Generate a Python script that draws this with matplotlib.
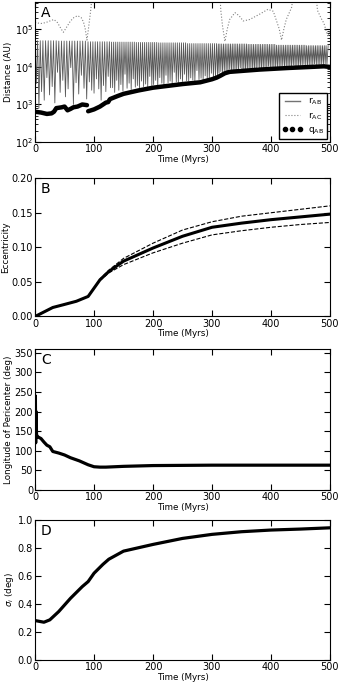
import numpy as np
import matplotlib
matplotlib.use("Agg")
import matplotlib.pyplot as plt
from matplotlib.lines import Line2D

# ---------------- panel A : distances ----------------
# times of the pericentre passages of B (Myr) and sampled minimum distance (kAU)
peri_t = [2, 6.5, 11, 15.5, 20, 24.5, 29, 33.5, 38, 42.5, 47, 51.5, 56, 60.5, 65, 69.5, 74, 78.5, 83, 87.5,
          92, 96, 100, 104, 108, 112, 116, 120, 124, 128,
          131.5, 135, 138.5, 142, 145.5, 149, 152.5, 156, 159.5, 163, 166.5, 170, 173.5, 177, 180.5, 184, 187.5, 191, 194.5, 198,
          201, 204.5, 208, 211.5, 215, 218.5, 222, 225.5, 229, 232.5, 236, 239.5, 243, 246.5, 250, 253.5,
          257, 260.5, 264, 267.5, 271, 274.5, 278, 281.5, 285, 288.5, 292, 295.5, 299, 302.5, 306, 309.5,
          312, 315, 318, 321, 324, 327, 330, 333, 336, 339, 342, 345, 348, 351, 354, 357, 360, 363, 366, 369,
          372, 375, 378, 381, 384, 387, 390, 393, 396, 399, 402, 405, 408, 411, 414, 417, 420, 423, 426, 429,
          432, 435, 438, 441, 444, 447, 450, 453, 456, 459, 462, 465, 468, 471, 474, 477, 480, 483, 486, 489, 492, 495]
peri_r = [3.6, 0.8, 2.2, 1.3, 5.2, 1.8, 3.0, 1.1, 7.2, 2.1, 4.4, 1.6, 2.6, 9.6, 1.0, 3.8, 1.9, 6.0, 2.7, 1.4,
          4.0, 2.4, 2.0, 4.8, 2.6, 1.3, 3.2, 2.2, 5.6, 2.8,
          2.8, 2.1, 4.4, 2.4, 3.4, 2.3, 6.4, 2.7, 3.7, 2.5, 4.8, 2.9, 3.2, 2.6, 4.2, 3.0, 3.5, 2.9, 5.6, 3.2,
          3.4, 4.4, 3.1, 5.2, 3.7, 3.4, 6.0, 3.8, 4.2, 3.6, 7.2, 4.0, 3.8, 4.8, 4.1, 6.4,
          4.3, 4.2, 5.1, 4.5, 4.3, 8.0, 4.6, 5.0, 4.6, 5.8, 4.8, 5.0, 6.8, 5.1, 5.4, 6.0,
          6.8, 7.6, 7.2, 8.0, 7.4, 7.7, 8.8, 7.8, 8.2, 7.9, 8.4, 8.1, 9.6, 8.3, 8.5, 8.2, 8.8, 8.6, 9.2, 8.7,
          9.0, 8.8, 10.0, 9.0, 9.3, 9.1, 9.4, 9.3, 10.4, 9.5, 9.7, 9.5, 9.9, 9.8, 10.1, 9.8, 10.8, 10.1, 10.2, 10.2,
          10.4, 10.3, 11.2, 10.5, 10.7, 10.6, 10.9, 10.8, 11.6, 11.0, 11.2, 11.1, 11.4, 11.3, 12.0, 11.5, 11.7, 11.6,
          11.8, 11.8, 12.2, 11.9]
# apocentre level (kAU) by time span
apo_end = [40, 90, 130, 170, 210, 260, 310, 360, 410, 460, 500]
apo_r = [50, 49, 47, 46, 45, 44, 42, 41, 40, 38, 37]

qab_t = [0, 10, 20, 28, 32, 36, 45, 50, 55, 60, 65, 72, 80, 88, np.nan, 90, 100, 110, 120, 124, 127, 140, 150, 175, 200,
         250, 280, 300, 308, 314, 322, 330, 380, 430, 490, 495, 500]
qab = [640, 610, 560, 580, 640, 800, 840, 880, 700, 760, 840, 880, 1000, 960, np.nan, 660, 740, 880, 1120, 1160,
       1390, 1680, 1920, 2360, 2800, 3500, 3900, 4700, 5200, 5800, 6800, 7400, 8500, 9400, 10400, 10200, 10000]

rac_t = [0, 5, 10, 18, 25, 32, 38, 44, 48, 53, 60, 66, 72, 78, 82, 85, 88, 91, 95, 98,
         312, 315, 318, 322, 326, 330, 339, 346, 353, 364, 381, 395, 404, 410, 414, 418, 422, 426, 435, 442,
         474, 479, 485, 490, 494, 497, 500]
rac = [1.56e5, 1.48e5, 1.44e5, 1.52e5, 1.68e5, 1.84e5, 1.52e5, 1.04e5, 8.4e4, 1.12e5, 1.68e5, 2.08e5, 2.32e5,
       2.08e5, 1.6e5, 1.04e5, 5.2e4, 1.2e5, 4e5, 2e6,
       2e6, 3.2e5, 1.2e5, 4.8e4, 1.04e5, 1.84e5, 2.8e5, 2.32e5, 1.68e5, 1.84e5, 2.56e5, 3.44e5, 3.04e5, 1.6e5,
       1.04e5, 5.2e4, 1.04e5, 1.84e5, 3.84e5, 2e6,
       2e6, 3.2e5, 2e5, 1.44e5, 8.8e4, 6.4e4, 9.6e4]

# ---------------- panel B : eccentricity ----------------
ecc_t = [0, 30, 48, 70, 90, 100, 110, 125, 150, 200, 250, 300, 350, 400, 450, 500]
ecc = [0.0, 0.013, 0.017, 0.022, 0.029, 0.041, 0.053, 0.065, 0.080, 0.099, 0.116, 0.129, 0.135, 0.140, 0.144, 0.148]
ecc_hi = [0.0, 0.013, 0.017, 0.022, 0.029, 0.041, 0.054, 0.067, 0.084, 0.106, 0.125, 0.137, 0.145, 0.150, 0.155, 0.160]
ecc_lo = [0.0, 0.013, 0.017, 0.022, 0.029, 0.041, 0.052, 0.063, 0.075, 0.092, 0.106, 0.118, 0.124, 0.129, 0.133, 0.136]

# ---------------- panel C : longitude of pericenter ----------------
lp_t = [0, 0.5, 1, 1.5, 2.5, 5, 10, 15, 20, 25, 30, 40, 50, 60, 75, 90, 100, 110, 120, 150, 200, 300, 400, 500]
lp = [195, 240, 120, 200, 140, 135, 131, 122, 114, 110, 98, 94, 89, 82, 74, 64, 59, 58, 58, 60, 62, 63, 63, 63]

# ---------------- panel D : inclination dispersion ----------------
si_t = [0, 15, 25, 40, 60, 80, 90, 100, 115, 125, 150, 200, 250, 300, 350, 400, 450, 500]
si = [0.281, 0.269, 0.286, 0.345, 0.44, 0.524, 0.56, 0.62, 0.683, 0.72, 0.778, 0.826, 0.869, 0.898, 0.917, 0.929,
      0.936, 0.945]

plt.rcParams.update({
    "font.size": 7,
    "axes.labelsize": 6.3,
    "xtick.direction": "in", "ytick.direction": "in",
    "xtick.top": True, "ytick.right": True,
    "xtick.major.size": 4, "ytick.major.size": 4,
    "xtick.minor.size": 2, "ytick.minor.size": 2,
    "xtick.major.pad": 1.5, "ytick.major.pad": 1.5,
    "axes.linewidth": 0.8,
})

fig = plt.figure(figsize=(3.44, 6.88), dpi=100)
L, W = 0.102, 0.857
axA = fig.add_axes([L, 0.7936, W, 0.204])
axB = fig.add_axes([L, 0.540, W, 0.201])
axC = fig.add_axes([L, 0.288, W, 0.205])
axD = fig.add_axes([L, 0.041, W, 0.203])

# r_AB: alternate apocentre and pericentre samples
pt = np.array(peri_t, dtype=float)
pr = np.array(peri_r) * 1e3
apo = np.array(apo_r)[np.searchsorted(apo_end, pt)] * 1e3
mid = np.r_[0, (pt[1:] + pt[:-1]) / 2, 497]
tt = np.empty(2 * len(pt) + 1)
rr = np.empty(2 * len(pt) + 1)
tt[0::2] = mid
tt[1::2] = pt
rr[0::2] = np.r_[apo, apo[-1]]
rr[1::2] = pr
axA.plot(tt, rr, color="0.35", lw=0.6)
axA.plot(rac_t, rac, color="0.5", ls=":", lw=0.8)
axA.plot(qab_t, qab, color="k", lw=3.2, solid_capstyle="round")
axA.set_yscale("log")
axA.set_ylim(1e2, 5.5e5)
axA.set_ylabel("Distance (AU)", labelpad=1)
hand = [Line2D([], [], color="0.45", lw=1.0),
        Line2D([], [], color="0.5", lw=0.8, ls=":"),
        Line2D([], [], color="k", ls="", marker="o", ms=3)]
leg = axA.legend(hand, [r"$\mathrm{r_{AB}}$", r"$\mathrm{r_{AC}}$", r"$\mathrm{q_{AB}}$"],
                 loc="lower right", fontsize=6.5, handlelength=2.3, numpoints=3, handletextpad=0.6,
                 fancybox=False, framealpha=1, borderpad=0.35, labelspacing=0.35, borderaxespad=0.3)
leg.get_frame().set_edgecolor("k")

axB.plot(ecc_t, ecc, color="k", lw=2.2)
axB.plot(ecc_t, ecc_hi, color="k", lw=0.8, ls="--")
axB.plot(ecc_t, ecc_lo, color="k", lw=0.8, ls="--")
axB.set_ylim(0, 0.2)
axB.set_yticks([0, 0.05, 0.10, 0.15, 0.20])
axB.yaxis.set_major_formatter(matplotlib.ticker.FormatStrFormatter("%.2f"))
axB.set_ylabel("Eccentricity", labelpad=1)

axC.plot(lp_t, lp, color="k", lw=2.3)
axC.set_ylim(0, 360)
axC.set_yticks(range(0, 351, 50))
axC.set_ylabel("Longitude of Pericenter (deg)", labelpad=1)

axD.plot(si_t, si, color="k", lw=2.3)
axD.set_ylim(0, 1)
axD.set_yticks([0, 0.2, 0.4, 0.6, 0.8, 1.0])
axD.set_ylabel(r"$\sigma_i$ (deg)", labelpad=1)

for ax, lab in zip([axA, axB, axC, axD], "ABCD"):
    ax.set_xlim(0, 500)
    ax.set_xticks(range(0, 501, 100))
    ax.set_xlabel("Time (Myrs)", labelpad=0.5)
    ax.text(0.02, 0.97, lab, transform=ax.transAxes, fontsize=10, va="top", ha="left")

fig.savefig("out.png", dpi=100)
